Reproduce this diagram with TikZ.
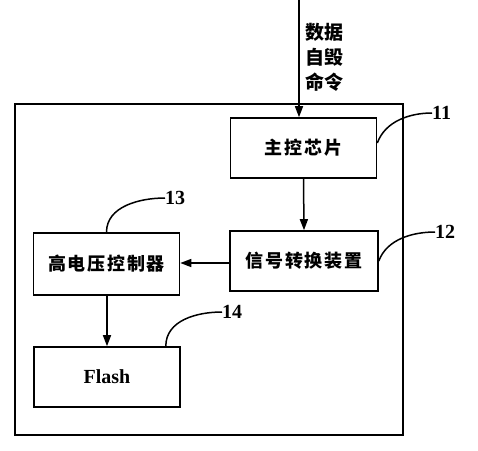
\documentclass[tikz,border=0pt]{standalone}
\usepackage{fontspec}
\setmainfont{Liberation Serif}
\newfontfamily\cjk[LetterSpace=10]{Noto Sans CJK SC}
\newfontfamily\cjkv{Noto Sans CJK SC}
\usetikzlibrary{arrows.meta,calc}
\begin{document}
\begin{tikzpicture}[x=1pt,y=-1pt,
  box/.style={draw,line width=1.6pt,minimum width=146pt,minimum height=60pt,inner sep=0pt,font=\cjk\bfseries\fontsize{18}{20}\selectfont},
  conn/.style={line width=1.5pt,-{Triangle[length=11pt,width=8pt]}},
  lead/.style={line width=1.5pt},
  num/.style={anchor=west,inner sep=0pt,font=\bfseries\fontsize{20}{22}\selectfont}]
\useasboundingbox (0,0) rectangle (478,450);
\draw[line width=1.6pt] (15,104) rectangle (403,435);
\node[box] (chip) at (303.5,148) {主控芯片};
\node[box,minimum width=148pt] (sig) at (304,261) {信号转换装置};
\node[box,minimum height=62pt] (hv) at (106.5,264) {高电压控制器};
\node[box,font=\bfseries\fontsize{20}{22}\selectfont] (flash) at (107,377) {Flash};
\coordinate (top) at (299,0);
\node[align=left,inner sep=0pt,font=\cjkv\bfseries\fontsize{19}{25}\selectfont] (cmd) at (324,57) {数据\\自毁\\命令};
\draw[conn] (top) -- (top |- chip.north);
\draw[conn] (chip.south) -- (sig.north);
\draw[conn] (sig.west |- 0,263) -- (hv.east |- 0,263);
\draw[conn] (hv.south -| flash.north) -- (flash.north);
\node[num] (n11) at (432,113) {11};
\node[num] (n12) at (435,232) {12};
\node[num] (n13) at (165,198) {13};
\node[num] (n14) at (222,312) {14};
\draw[lead] ($(chip.east)+(0,-5)$) .. controls +(8,-22) and +(-22,0) .. (n11.west);
\draw[lead] (sig.east) .. controls +(8,-22) and +(-22,0) .. (n12.west);
\draw[lead] (hv.north) .. controls +(0,-26) and +(-25,0) .. (n13.west);
\draw[lead] ($(flash.north east)+(-15,0)$) .. controls +(0,-26) and +(-25,0) .. (n14.west);
\end{tikzpicture}
\end{document}
